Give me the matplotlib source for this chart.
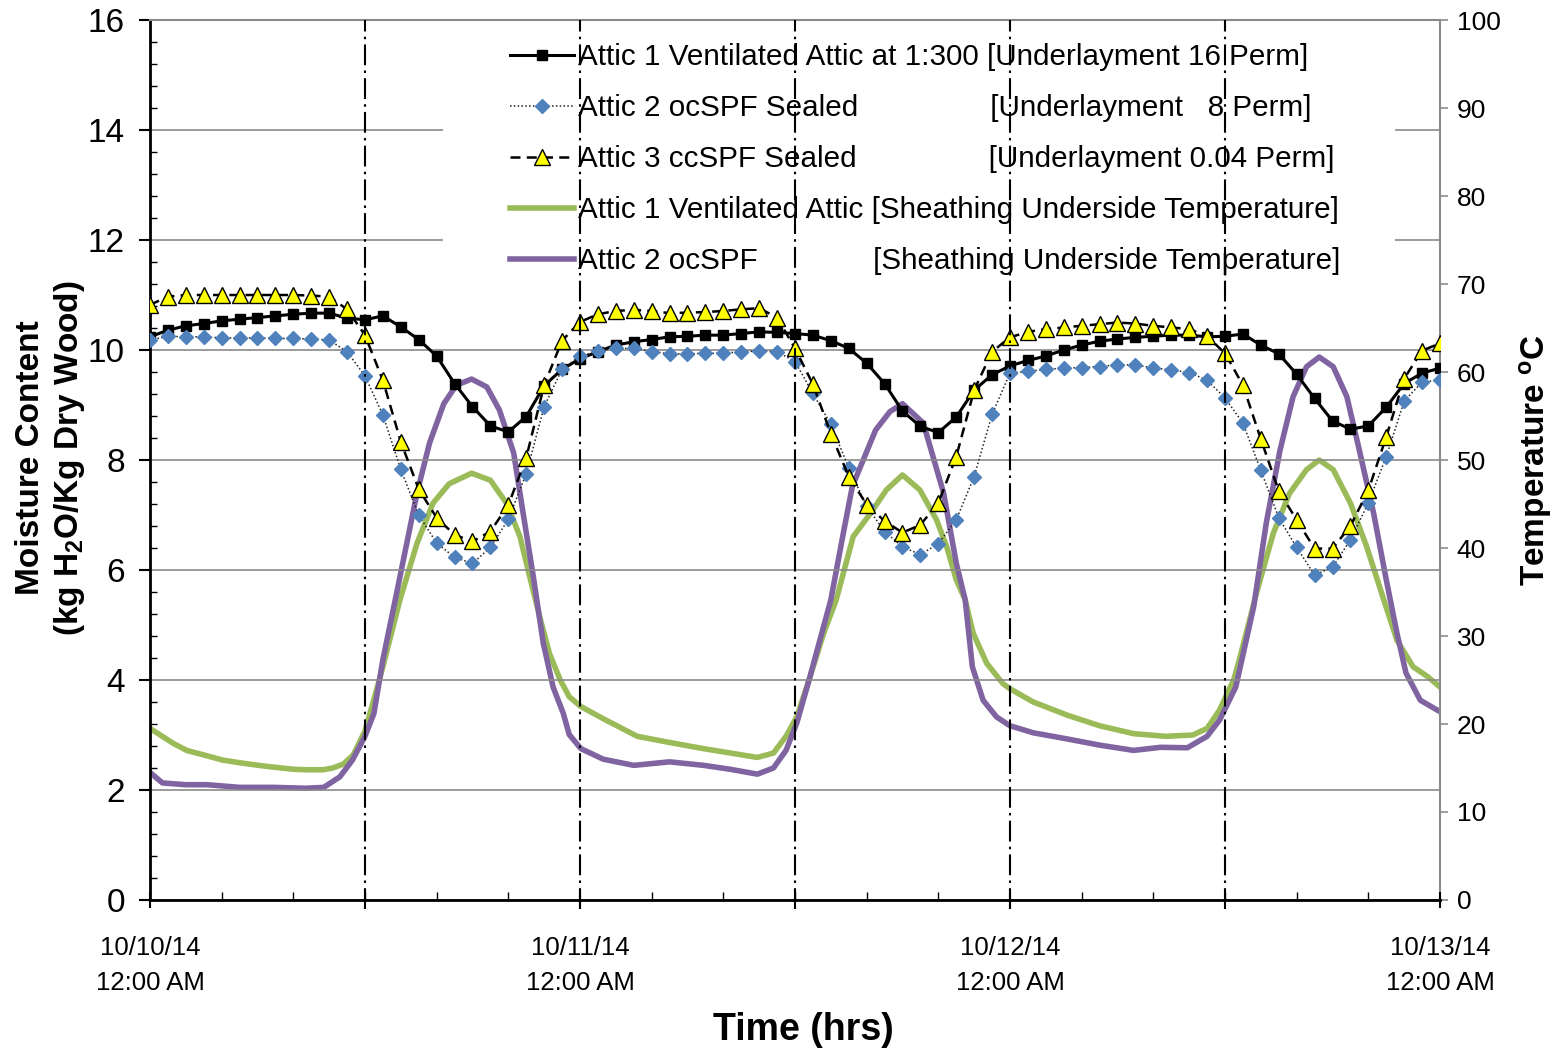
import numpy as np
import matplotlib
matplotlib.use('Agg')
import matplotlib.pyplot as plt
from matplotlib.patches import Rectangle
from matplotlib.ticker import MultipleLocator

plt.rcParams['font.family'] = 'Liberation Sans'
plt.rcParams['mathtext.fontset'] = 'custom'
plt.rcParams['mathtext.rm'] = 'Liberation Sans'
plt.rcParams['mathtext.bf'] = 'Liberation Sans:bold'
plt.rcParams['mathtext.it'] = 'Liberation Sans:italic'

# hourly moisture content readings (kg H2O / kg dry wood), 10/10/14 00:00 .. 10/13/14 00:00
hours = list(range(0, 73))
attic1_mc = [10.24, 10.36, 10.44, 10.48, 10.53, 10.56, 10.59, 10.62, 10.65, 10.67, 10.67, 10.58,
             10.55, 10.62, 10.42, 10.19, 9.89, 9.39, 8.97, 8.62, 8.51, 8.79, 9.35, 9.65,
             9.84, 9.97, 10.09, 10.15, 10.19, 10.24, 10.25, 10.27, 10.27, 10.30, 10.33, 10.32,
             10.30, 10.27, 10.17, 10.03, 9.76, 9.39, 8.89, 8.61, 8.50, 8.78, 9.27, 9.55,
             9.71, 9.81, 9.89, 10.00, 10.09, 10.16, 10.20, 10.23, 10.25, 10.27, 10.27, 10.24,
             10.25, 10.29, 10.09, 9.93, 9.56, 9.12, 8.71, 8.56, 8.62, 8.96, 9.39, 9.58, 9.67]
attic2_mc = [10.18, 10.25, 10.24, 10.24, 10.22, 10.22, 10.22, 10.21, 10.21, 10.20, 10.18, 9.97,
             9.53, 8.82, 7.83, 7.00, 6.49, 6.23, 6.12, 6.41, 6.92, 7.75, 8.97, 9.65,
             9.89, 9.98, 10.03, 10.03, 9.97, 9.93, 9.93, 9.94, 9.94, 9.97, 9.98, 9.97,
             9.79, 9.21, 8.65, 7.86, 7.16, 6.70, 6.42, 6.28, 6.48, 6.91, 7.70, 8.83,
             9.58, 9.61, 9.65, 9.67, 9.68, 9.70, 9.73, 9.73, 9.67, 9.64, 9.59, 9.45,
             9.13, 8.67, 7.81, 6.95, 6.41, 5.91, 6.05, 6.55, 7.22, 8.06, 9.07, 9.42, 9.45]
attic3_mc = [10.82, 10.97, 11.00, 11.00, 11.00, 11.00, 11.00, 11.00, 11.00, 10.99, 10.97, 10.74,
             10.27, 9.45, 8.33, 7.47, 6.95, 6.64, 6.52, 6.70, 7.18, 8.04, 9.36, 10.17,
             10.51, 10.65, 10.71, 10.73, 10.71, 10.67, 10.68, 10.69, 10.71, 10.74, 10.76, 10.59,
             10.03, 9.38, 8.48, 7.70, 7.19, 6.89, 6.68, 6.82, 7.22, 8.06, 9.27, 9.97,
             10.23, 10.33, 10.38, 10.41, 10.44, 10.47, 10.50, 10.48, 10.44, 10.41, 10.38, 10.25,
             9.94, 9.36, 8.38, 7.44, 6.91, 6.39, 6.39, 6.80, 7.45, 8.42, 9.48, 9.99, 10.12]

# sheathing underside temperature (deg C)
attic1_t_hours = [0.0, 1.3, 2.05, 3.16, 4.05, 5.0, 6.05, 6.9, 8.04, 8.75, 9.67, 10.2, 10.8, 11.35,
                  12.0, 12.5, 13.0, 13.95, 14.9, 15.8, 16.7, 17.95, 19.0, 19.9, 20.65, 21.2,
                  21.8, 22.3, 22.9, 23.4, 24.04, 25.3, 27.2, 29.0, 30.9, 32.7, 33.9, 34.8, 35.5,
                  36.1, 36.8, 37.6, 38.3, 39.25, 40.2, 41.1, 42.0, 42.97, 43.9, 44.46, 45.0,
                  45.5, 45.95, 46.7, 47.6, 48.0, 49.3, 51.2, 53.0, 54.9, 56.7, 58.2, 59.0, 59.7,
                  60.5, 60.8, 61.8, 62.7, 63.6, 64.55, 65.26, 66.04, 67.0, 67.9, 68.8, 69.6,
                  70.5, 71.3, 72.0]
attic1_temp = [19.5, 17.8, 17.0, 16.4, 15.9, 15.6, 15.3, 15.1, 14.85, 14.8, 14.8, 15.0, 15.45, 16.5,
               19.2, 22.8, 26.5, 34.1, 40.5, 45.1, 47.3, 48.5, 47.7, 45.1, 41.3, 36.7,
               31.8, 28.0, 25.0, 23.1, 22.0, 20.6, 18.6, 17.9, 17.2, 16.6, 16.2, 16.7, 18.6,
               20.8, 25.1, 30.3, 34.1, 41.3, 43.9, 46.6, 48.3, 46.6, 43.2, 40.2, 36.4,
               34.1, 30.3, 26.9, 24.6, 24.0, 22.5, 21.0, 19.8, 18.9, 18.6, 18.75, 19.5, 21.6,
               25.1, 27.3, 35.2, 41.7, 46.2, 48.9, 50.0, 48.9, 45.1, 40.2, 34.5, 29.5,
               26.5, 25.4, 24.2]
attic2_t_hours = [0.0, 0.7, 2.0, 3.2, 5.0, 6.9, 8.7, 9.7, 10.6, 11.3, 12.0, 12.5, 13.0, 13.77,
                  14.33, 14.9, 15.6, 16.4, 17.1, 17.95, 18.8, 19.5, 20.3, 20.8, 21.4, 21.95, 22.5,
                  23.07, 23.4, 24.05, 25.3, 27.0, 29.0, 30.9, 32.4, 33.9, 34.8, 35.5, 36.1, 36.8,
                  37.6, 38.0, 38.7, 39.2, 40.5, 41.3, 42.0, 43.16, 44.3, 45.0, 45.5, 45.9, 46.5,
                  47.25, 48.0, 49.3, 51.2, 53.0, 54.9, 56.4, 57.9, 59.0, 59.7, 60.6, 61.6, 62.3,
                  63.07, 63.8, 64.55, 65.26, 66.04, 66.8, 67.5, 68.3, 69.0, 69.6, 70.1, 70.9,
                  72.0]
attic2_temp = [14.5, 13.3, 13.1, 13.1, 12.8, 12.8, 12.7, 12.8, 14.0, 15.9, 18.6, 21.2, 27.3, 34.9,
               40.5, 46.2, 51.9, 56.4, 58.5, 59.2, 58.3, 55.7, 50.8, 44.3, 36.7, 29.2, 24.2,
               21.2, 18.8, 17.2, 16.0, 15.3, 15.7, 15.3, 14.85, 14.3, 15.0, 17.0, 20.1, 25.1,
               31.1, 34.1, 41.7, 47.0, 53.4, 55.5, 56.4, 54.2, 46.2, 38.3, 34.1, 26.5, 22.7,
               20.8, 19.8, 19.0, 18.3, 17.6, 17.0, 17.35, 17.3, 18.6, 20.45, 24.2, 33.3, 42.8,
               51.1, 57.2, 60.6, 61.7, 60.6, 57.2, 51.1, 43.9, 36.4, 30.3, 25.8, 22.7,
               21.4]

date_ticks = [0, 24, 48, 72]
date_labels = ['10/10/14\n12:00 AM', '10/11/14\n12:00 AM', '10/12/14\n12:00 AM', '10/13/14\n12:00 AM']
divider_hours = [12, 24, 36, 48, 60]

labels = [
    'Attic 1 Ventilated Attic at 1:300 [Underlayment 16 Perm]',
    'Attic 2 ocSPF Sealed' + ' ' * 16 + '[Underlayment   8 Perm]',
    'Attic 3 ccSPF Sealed' + ' ' * 16 + '[Underlayment 0.04 Perm]',
    'Attic 1 Ventilated Attic [Sheathing Underside Temperature]',
    'Attic 2 ocSPF' + ' ' * 14 + '[Sheathing Underside Temperature]',
]

fig = plt.figure(figsize=(15.62, 10.53), dpi=100)
ax = fig.add_axes([0.0960, 0.1453, 0.8259, 0.8357])
ax2 = ax.twinx()
ax.set_zorder(ax2.get_zorder() + 1)
ax.patch.set_visible(False)

l4, = ax2.plot(attic1_t_hours, attic1_temp, color='#9BBB59', lw=4, solid_joinstyle='round')
l5, = ax2.plot(attic2_t_hours, attic2_temp, color='#8064A2', lw=4, solid_joinstyle='round')

l1, = ax.plot(hours, attic1_mc, color='black', lw=2.2, marker='s', ms=7.5, zorder=3)
l2, = ax.plot(hours, attic2_mc, color='#222222', lw=1.1, ls=(0, (1, 1.5)), marker='D', ms=7.5,
              markerfacecolor='#4F81BD', markeredgecolor='#4F81BD', zorder=3)
l3, = ax.plot(hours, attic3_mc, color='black', lw=1.8, ls=(0, (4, 2.5)), marker='^', ms=11,
              markerfacecolor='#FFFF00', markeredgecolor='black', markeredgewidth=1, zorder=3)

for h in divider_hours:
    ax.axvline(h, ymin=-0.01, ymax=1, color='black', lw=1.5, ls=(0, (10, 2.5, 1.2, 2.5)),
               zorder=4, clip_on=False)

ax.set_xlim(0, 72)
ax.set_ylim(0, 16)
ax2.set_ylim(0, 100)

ax.set_xticks(date_ticks)
ax.set_xticklabels(date_labels, fontsize=18.5, linespacing=1.55)
ax.xaxis.set_minor_locator(MultipleLocator(4))
ax.set_yticks(np.arange(0, 17, 2))
ax.yaxis.set_minor_locator(MultipleLocator(0.4))
ax2.set_yticks(np.arange(0, 101, 10))

ax.tick_params(axis='x', which='major', direction='inout', length=12, width=1.5, pad=20)
ax.tick_params(axis='x', which='minor', direction='in', length=6, width=1)
ax.tick_params(axis='y', which='major', direction='out', length=8, width=1.5, pad=10, labelsize=24)
ax.tick_params(axis='y', which='minor', direction='in', length=5, width=1)
ax2.tick_params(axis='y', direction='out', length=6, width=1.2, color='#8a8a8a', pad=6, labelsize=19)

ax.grid(axis='y', which='major', color='#8a8a8a', lw=1.2)
ax.set_axisbelow(True)

for s in ['left', 'bottom']:
    ax.spines[s].set_linewidth(2)
    ax.spines[s].set_color('black')
ax.spines['right'].set_visible(False)
ax.spines['top'].set_color('#8a8a8a')
ax.spines['top'].set_linewidth(1.5)
for s in ['left', 'bottom', 'top']:
    ax2.spines[s].set_visible(False)
ax2.spines['right'].set_color('#8a8a8a')
ax2.spines['right'].set_linewidth(1.5)

# white panel behind the legend hides the gridlines
ax.add_patch(Rectangle((0.227, 0.70), 0.738, 0.29, transform=ax.transAxes,
                       facecolor='white', edgecolor='none', zorder=1))
leg = ax.legend([l1, l2, l3, l4, l5], labels, loc='upper left', bbox_to_anchor=(0.279, 0.974),
                frameon=False, fontsize=21.3, handlelength=2.17, handletextpad=0.12,
                labelspacing=0.78, borderpad=0, borderaxespad=0)
leg.set_zorder(3)

fig.text(51 / 1562, 1 - 458 / 1053, 'Moisture Content\n(kg H$_\\mathbf{2}$O/Kg Dry Wood)',
         rotation=90, ha='center', va='center', fontsize=24, fontweight='bold',
         multialignment='center', linespacing=1.25)
fig.text(1535 / 1562, 1 - 460 / 1053, 'Temperature $^\\mathbf{o}$C', rotation=90,
         ha='center', va='center', fontsize=24, fontweight='bold')
fig.text(803 / 1562, 1 - 1030 / 1053, 'Time (hrs)', ha='center', va='center',
         fontsize=27, fontweight='bold')

fig.savefig('out.png', dpi=100)
